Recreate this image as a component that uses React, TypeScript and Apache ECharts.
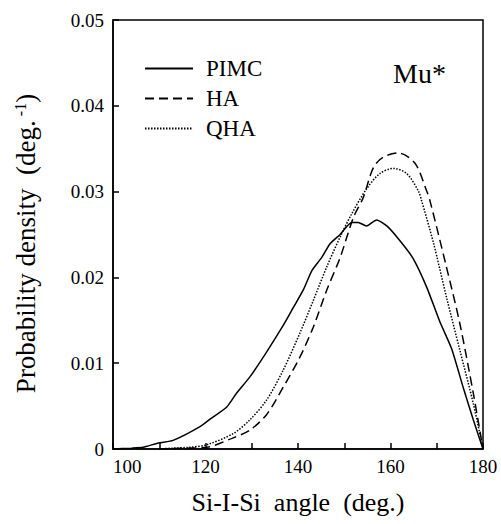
import React, { useEffect, useRef } from "react";
import * as echarts from "echarts";

const pimcAngles = [100, 104, 106.5, 109.8, 113, 118.8, 121.3, 124.6, 126.7, 129.6, 133.2, 136.8, 139, 141.2, 143, 145.1, 146.9, 149.1, 151.6, 153, 154.8, 157, 159.2, 162, 164.9, 167.8, 170.7, 173.2, 175.7, 177.9, 180];
const pimcValues = [0, 0.0001, 0.0002, 0.0007, 0.001, 0.0026, 0.0036, 0.0049, 0.0065, 0.0084, 0.0113, 0.0144, 0.0165, 0.0186, 0.0208, 0.0223, 0.0239, 0.025, 0.0264, 0.0264, 0.026, 0.0267, 0.026, 0.0243, 0.0222, 0.0189, 0.0148, 0.0117, 0.0072, 0.0034, 0];

const haAngles = [110, 116, 120.3, 126, 129.6, 133.2, 136.8, 140.4, 143.3, 146.2, 149.1, 152, 154.1, 156.3, 158.4, 161.7, 165.3, 167.8, 168.5, 172.1, 175, 177.9, 180];
const haValues = [0, 0.0001, 0.0002, 0.0013, 0.0022, 0.004, 0.0072, 0.0107, 0.0142, 0.0185, 0.0223, 0.027, 0.0293, 0.0328, 0.034, 0.0345, 0.0333, 0.0301, 0.029, 0.0212, 0.0146, 0.0065, 0];

const qhaAngles = [110, 113, 116.5, 120.3, 126, 129.6, 133.2, 136.8, 140.4, 143.3, 146.2, 149.1, 151.6, 154.8, 157.7, 160.6, 163.5, 166, 166.7, 169.3, 172.1, 175, 177.9, 180];
const qhaValues = [0, 0.0001, 0.0002, 0.0005, 0.0018, 0.0034, 0.0057, 0.0092, 0.0135, 0.0173, 0.0212, 0.0247, 0.0274, 0.0303, 0.0321, 0.0327, 0.0321, 0.0301, 0.029, 0.024, 0.0177, 0.0115, 0.0053, 0];

const seriesNames = ["PIMC", "HA", "QHA"];
const xTickLabels = [100, 120, 140, 160, 180];
const panelLabel = "Mu*";

const FONT = "Liberation Serif";

const pairs = (xs: number[], ys: number[]) => xs.map((x, i) => [x, ys[i]]);

export default function App() {
  const ref = useRef<HTMLDivElement>(null);
  useEffect(() => {
    document.body.style.margin = "0";
    const chart = echarts.init(ref.current!, null, { renderer: "svg" });
    const lineBase = { type: "line", symbol: "none", showSymbol: false };
    chart.setOption({
      animation: false,
      backgroundColor: "#fff",
      textStyle: { fontFamily: FONT, color: "#000" },
      grid: { left: 113, right: 18, top: 20, bottom: 75, show: true, borderColor: "#000", borderWidth: 1.5 },
      legend: {
        left: 139,
        top: 52,
        orient: "vertical",
        itemWidth: 48,
        itemHeight: 14,
        itemGap: 7,
        itemStyle: { opacity: 0 },
        textStyle: { fontFamily: FONT, fontSize: 23, color: "#000", padding: [0, 0, 0, 8] },
        data: seriesNames,
      },
      graphic: [
        {
          type: "text",
          left: 393,
          top: 59,
          style: { text: panelLabel, font: `28px "${FONT}"`, fill: "#000" },
        },
      ],
      xAxis: {
        type: "value",
        min: 100,
        max: 180,
        interval: 10,
        name: "Si-I-Si  angle  (deg.)",
        nameLocation: "middle",
        nameGap: 40,
        nameTextStyle: { fontFamily: FONT, fontSize: 26, color: "#000" },
        axisLine: { lineStyle: { color: "#000", width: 1.5 } },
        axisTick: { inside: true, length: 6, lineStyle: { color: "#000", width: 1.5 } },
        axisLabel: {
          fontFamily: FONT,
          fontSize: 19,
          color: "#000",
          margin: 8,
          alignMinLabel: "left",
          formatter: (v: number) => (xTickLabels.includes(v) ? String(v) : ""),
        },
        splitLine: { show: false },
      },
      yAxis: {
        type: "value",
        min: 0,
        max: 0.05,
        interval: 0.01,
        name: "Probability density  (deg.{sup| -1})",
        nameLocation: "middle",
        nameGap: 74,
        nameTextStyle: {
          fontFamily: FONT,
          fontSize: 27,
          color: "#000",
          padding: [0, 18, 0, 0],
          rich: { sup: { fontFamily: FONT, fontSize: 16, verticalAlign: "top", color: "#000" } },
        },
        axisLine: { lineStyle: { color: "#000", width: 1.5 } },
        axisTick: { inside: true, length: 6, lineStyle: { color: "#000", width: 1.5 } },
        axisLabel: {
          fontFamily: FONT,
          fontSize: 19,
          color: "#000",
          margin: 9,
          formatter: (v: number) => (v === 0 ? "0" : v.toFixed(2)),
        },
        splitLine: { show: false },
      },
      series: [
        { ...lineBase, name: seriesNames[0], data: pairs(pimcAngles, pimcValues), smooth: 0.2, lineStyle: { color: "#000", width: 1.5, type: "solid" }, itemStyle: { color: "#000" } },
        { ...lineBase, name: seriesNames[1], data: pairs(haAngles, haValues), smooth: 0.3, lineStyle: { color: "#000", width: 1.5, type: [9, 5] }, itemStyle: { color: "#000" } },
        { ...lineBase, name: seriesNames[2], data: pairs(qhaAngles, qhaValues), smooth: 0.3, lineStyle: { color: "#000", width: 1.5, type: [1.5, 1.5] }, itemStyle: { color: "#000" } },
      ],
    });
    return () => chart.dispose();
  }, []);
  return <div ref={ref} style={{ width: 501, height: 524 }} />;
}
